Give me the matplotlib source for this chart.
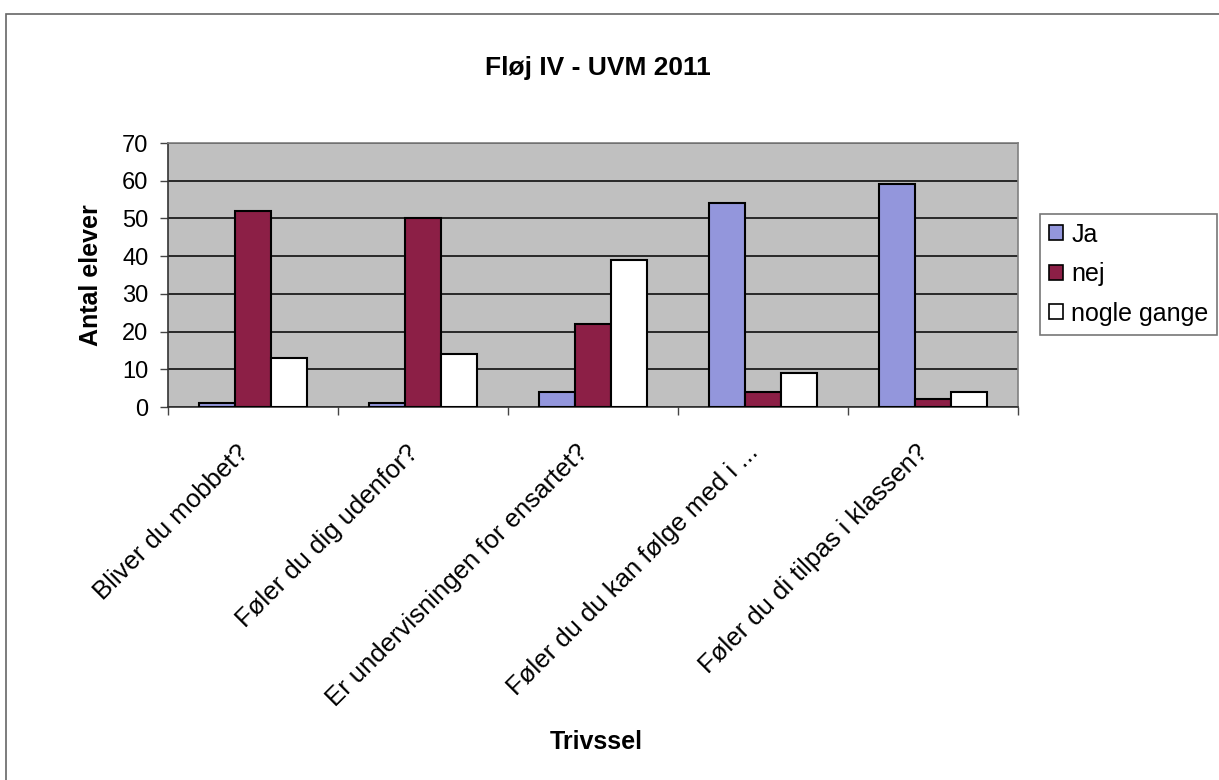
import matplotlib
matplotlib.use("Agg")
import matplotlib.pyplot as plt
import numpy as np
from matplotlib.patches import Rectangle, Patch

categories = ["Bliver du mobbet?", "Føler du dig udenfor?", "Er undervisningen for ensartet?",
              "Føler du du kan følge med i ...", "Føler du di tilpas i klassen?"]
series_names = ["Ja", "nej", "nogle gange"]
ja = [1, 1, 4, 54, 59]
nej = [52, 50, 22, 4, 2]
nogle = [13, 14, 39, 9, 4]
yticks = [0, 10, 20, 30, 40, 50, 60, 70]

colors = ["#9396dc", "#8c1f46", "#ffffff"]

plt.rcParams['font.family'] = ['Liberation Sans', 'DejaVu Sans']

W, H = 1219, 780
fig = plt.figure(figsize=(W / 100, H / 100), dpi=100)
fig.patch.set_facecolor("white")

# outer chart frame (partially visible in the scan)
fig.add_artist(Rectangle((6 / W, -0.05), 1.2, 1 - 14 / H + 0.05, transform=fig.transFigure,
                         fill=False, edgecolor="#666666", lw=1.2))

left, right, top, bottom = 168, 1018, 143, 407
ax = fig.add_axes([left / W, 1 - bottom / H, (right - left) / W, (bottom - top) / H])
ax.set_facecolor("#c0c0c0")

x = np.arange(len(categories))
w = 0.21
for i, (vals, c, name) in enumerate(zip([ja, nej, nogle], colors, series_names)):
    ax.bar(x + (i - 1) * w, vals, width=w, color=c, edgecolor="black", linewidth=1.5,
           label=name, zorder=3)

ax.set_xlim(-0.5, len(categories) - 0.5)
ax.set_ylim(0, 70)
ax.set_yticks(yticks)
ax.set_yticklabels([str(t) for t in yticks], fontsize=17)
ax.yaxis.grid(True, color="black", lw=1.1, zorder=1)
ax.set_axisbelow(True)

ax.set_xticks(x)
ax.set_xticklabels(categories, rotation=45, ha="right", rotation_mode="default", fontsize=18.5)
ax.tick_params(axis="x", which="major", length=0, pad=24)
ax.set_xticks(np.arange(-0.5, len(categories)), minor=True)
ax.tick_params(axis="x", which="minor", length=6, width=1, color="#444444", direction="out")
ax.tick_params(axis="y", length=6, width=1, color="#444444", direction="out", pad=8)

for s in ["top", "right"]:
    ax.spines[s].set_color("#808080")
    ax.spines[s].set_linewidth(1.2)
for s in ["left", "bottom"]:
    ax.spines[s].set_color("#333333")
    ax.spines[s].set_linewidth(1.2)

ax.set_ylabel("Antal elever", fontsize=18, fontweight="bold", labelpad=14)
fig.text(596 / W, 1 - 742 / H, "Trivssel", fontsize=18, fontweight="bold", ha="center", va="center")
fig.text(598 / W, 1 - 68 / H, "Fløj IV - UVM 2011", fontsize=19, fontweight="bold",
         ha="center", va="center")

handles = [Patch(facecolor=c, edgecolor="black", lw=1.2) for c in colors]
leg = fig.legend(handles, series_names, loc="upper left", bbox_to_anchor=(1040 / W, 1 - 214 / H),
                 fontsize=18, frameon=True, fancybox=False, shadow=False,
                 handlelength=0.55, handleheight=0.55, handletextpad=0.35,
                 labelspacing=0.62, borderpad=0.35, borderaxespad=0)
leg.get_frame().set_edgecolor("#555555")
leg.get_frame().set_linewidth(1.2)

fig.savefig("out.png", dpi=100)
